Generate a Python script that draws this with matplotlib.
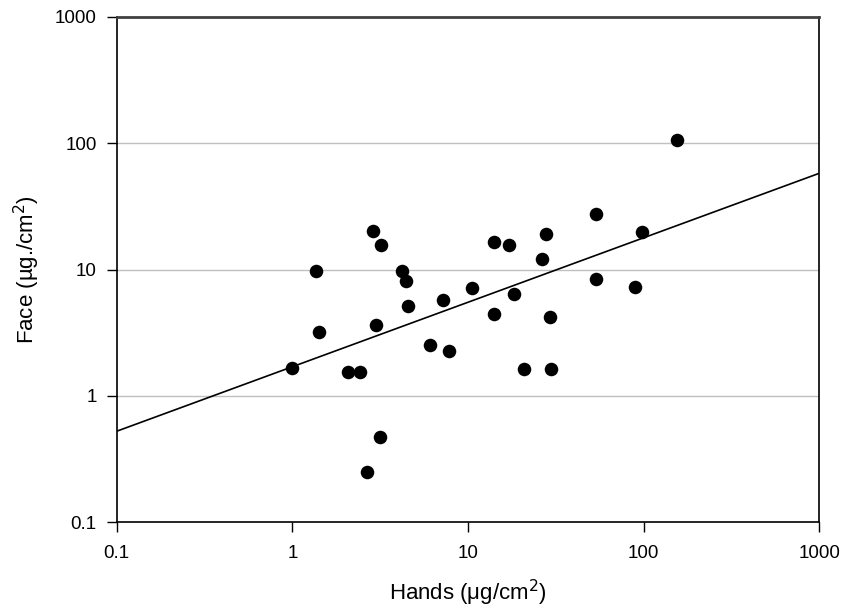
import matplotlib
matplotlib.use('Agg')
import matplotlib.pyplot as plt
import numpy as np

plt.rcParams['font.family'] = ['Liberation Sans', 'DejaVu Sans']

# hand vs face loading, ug/cm2
hands = [1.0, 1.36, 1.42, 2.08, 2.41, 2.87, 3.18, 2.99, 3.15, 2.66,
         4.22, 4.41, 4.54, 6.08, 7.2, 7.76, 10.6, 14.0, 14.1, 17.2,
         18.2, 20.7, 26.2, 27.7, 29.3, 29.7, 53.2, 53.2, 89.3, 98.4, 155]
face = [1.65, 9.73, 3.23, 1.55, 1.55, 20.2, 15.7, 3.64, 0.47, 0.249,
        9.73, 8.17, 5.14, 2.55, 5.78, 2.26, 7.19, 16.5, 4.45, 15.7,
        6.45, 1.63, 12.0, 19.1, 4.24, 1.62, 27.3, 8.47, 7.33, 19.8, 105]

# regression line (log-log)
fit_x = [0.1, 1000]
fit_y = [0.526, 57.7]

fig = plt.figure(figsize=(8.46, 6.16), dpi=100)
ax = fig.add_axes([0.138, 0.152, 0.8305, 0.821])

ax.set_xscale('log')
ax.set_yscale('log')
ax.set_xlim(0.1, 1000)
ax.set_ylim(0.1, 1000)

for yv in [1, 10, 100]:
    ax.axhline(yv, color='#c0c0c0', lw=1, zorder=0)

ax.plot(fit_x, fit_y, color='black', lw=1.2, zorder=2)
ax.scatter(hands, face, s=95, color='black', zorder=3, linewidths=0)

ticks = [0.1, 1, 10, 100, 1000]
labels = ['0.1', '1', '10', '100', '1000']
ax.set_xticks(ticks)
ax.set_xticklabels(labels)
ax.set_yticks(ticks)
ax.set_yticklabels(labels)
ax.minorticks_off()
ax.tick_params(direction='out', length=7, width=1, labelsize=13.5)
ax.tick_params(axis='x', pad=9)
ax.tick_params(axis='y', pad=7.5)

for sp in ax.spines.values():
    sp.set_linewidth(1.2)
ax.spines['top'].set_color('#404040')
ax.spines['top'].set_linewidth(2)

ax.set_xlabel('Hands ($\\mathregular{\\mu}$g/cm$^2$)', fontsize=16, labelpad=12)
ax.set_ylabel('Face (\u00b5g./cm$^2$)', fontsize=16, labelpad=9)

fig.savefig('out.png', dpi=100)
